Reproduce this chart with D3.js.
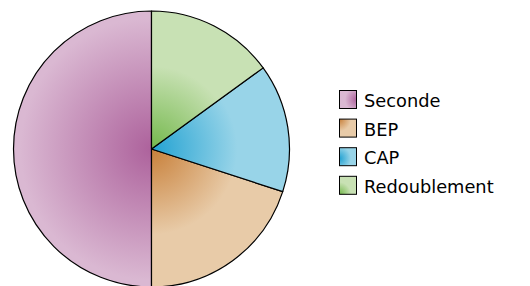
<!DOCTYPE html>
<html>
<head>
<meta charset="utf-8">
<script src="https://cdn.jsdelivr.net/npm/d3@7"></script>
<style>
  body { margin: 0; background: #fff; }
  svg { display: block; font-family: "DejaVu Sans", sans-serif; }
</style>
</head>
<body>
<div id="chart"></div>
<script>
// slice data, counterclockwise from 12 o'clock
var categories = ["Seconde", "BEP", "CAP", "Redoublement"];
var values = [50, 20, 15, 15];
var darkColors = ["#ad629c", "#c8803a", "#22a2d2", "#74b84c"];
var lightColors = ["#dab8d2", "#e8cba8", "#98d4e8", "#c8e1b4"];
var fadeStops = [0.95, 0.62, 0.62, 0.6];
// legend swatch gradient centres (bounding box units)
var swatchCentres = [[1, 0.5], [0, 0], [0, 0.6], [0, 1]];

var width = 530, height = 286;
var cx = 151.5, cy = 149, radius = 138;

var svg = d3.select("#chart").append("svg")
    .attr("width", width)
    .attr("height", height);

var defs = svg.append("defs");

categories.forEach(function(cat, i) {
    // pie group is translated, so the gradient sits at its local origin
    var g = defs.append("radialGradient")
        .attr("id", "grad" + i)
        .attr("gradientUnits", "userSpaceOnUse")
        .attr("cx", 0).attr("cy", 0).attr("r", radius);
    g.append("stop").attr("offset", "0").attr("stop-color", darkColors[i]);
    g.append("stop").attr("offset", fadeStops[i]).attr("stop-color", lightColors[i]);
    g.append("stop").attr("offset", "1").attr("stop-color", lightColors[i]);

    var s = defs.append("radialGradient")
        .attr("id", "sw" + i)
        .attr("cx", swatchCentres[i][0]).attr("cy", swatchCentres[i][1]).attr("r", 0.9);
    s.append("stop").attr("offset", "0").attr("stop-color", darkColors[i]);
    s.append("stop").attr("offset", "0.75").attr("stop-color", lightColors[i]);
    s.append("stop").attr("offset", "1").attr("stop-color", lightColors[i]);
});

var pie = d3.pie()
    .sort(null)
    .startAngle(0)
    .endAngle(-2 * Math.PI)
    .value(function(d) { return d; });

var arc = d3.arc().innerRadius(0).outerRadius(radius);

var pieG = svg.append("g")
    .attr("transform", "translate(" + cx + "," + cy + ")");

pieG.selectAll("path")
    .data(pie(values))
    .enter().append("path")
    .attr("d", arc)
    .attr("fill", function(d, i) { return "url(#grad" + i + ")"; })
    .attr("stroke", "#000")
    .attr("stroke-width", 1.2)
    .attr("stroke-linejoin", "round");

// legend
var legend = svg.append("g").attr("transform", "translate(339,90)");
var rowStep = 28.6;

var rows = legend.selectAll("g")
    .data(categories)
    .enter().append("g")
    .attr("transform", function(d, i) { return "translate(0," + (i * rowStep) + ")"; });

rows.append("rect")
    .attr("x", 0.5).attr("y", 0.5)
    .attr("width", 17).attr("height", 18)
    .attr("fill", function(d, i) { return "url(#sw" + i + ")"; })
    .attr("stroke", "#000")
    .attr("stroke-width", 1);

rows.append("text")
    .attr("x", 25)
    .attr("y", 17)
    .attr("font-size", 17.8)
    .attr("fill", "#000")
    .text(function(d) { return d; });
</script>
</body>
</html>
